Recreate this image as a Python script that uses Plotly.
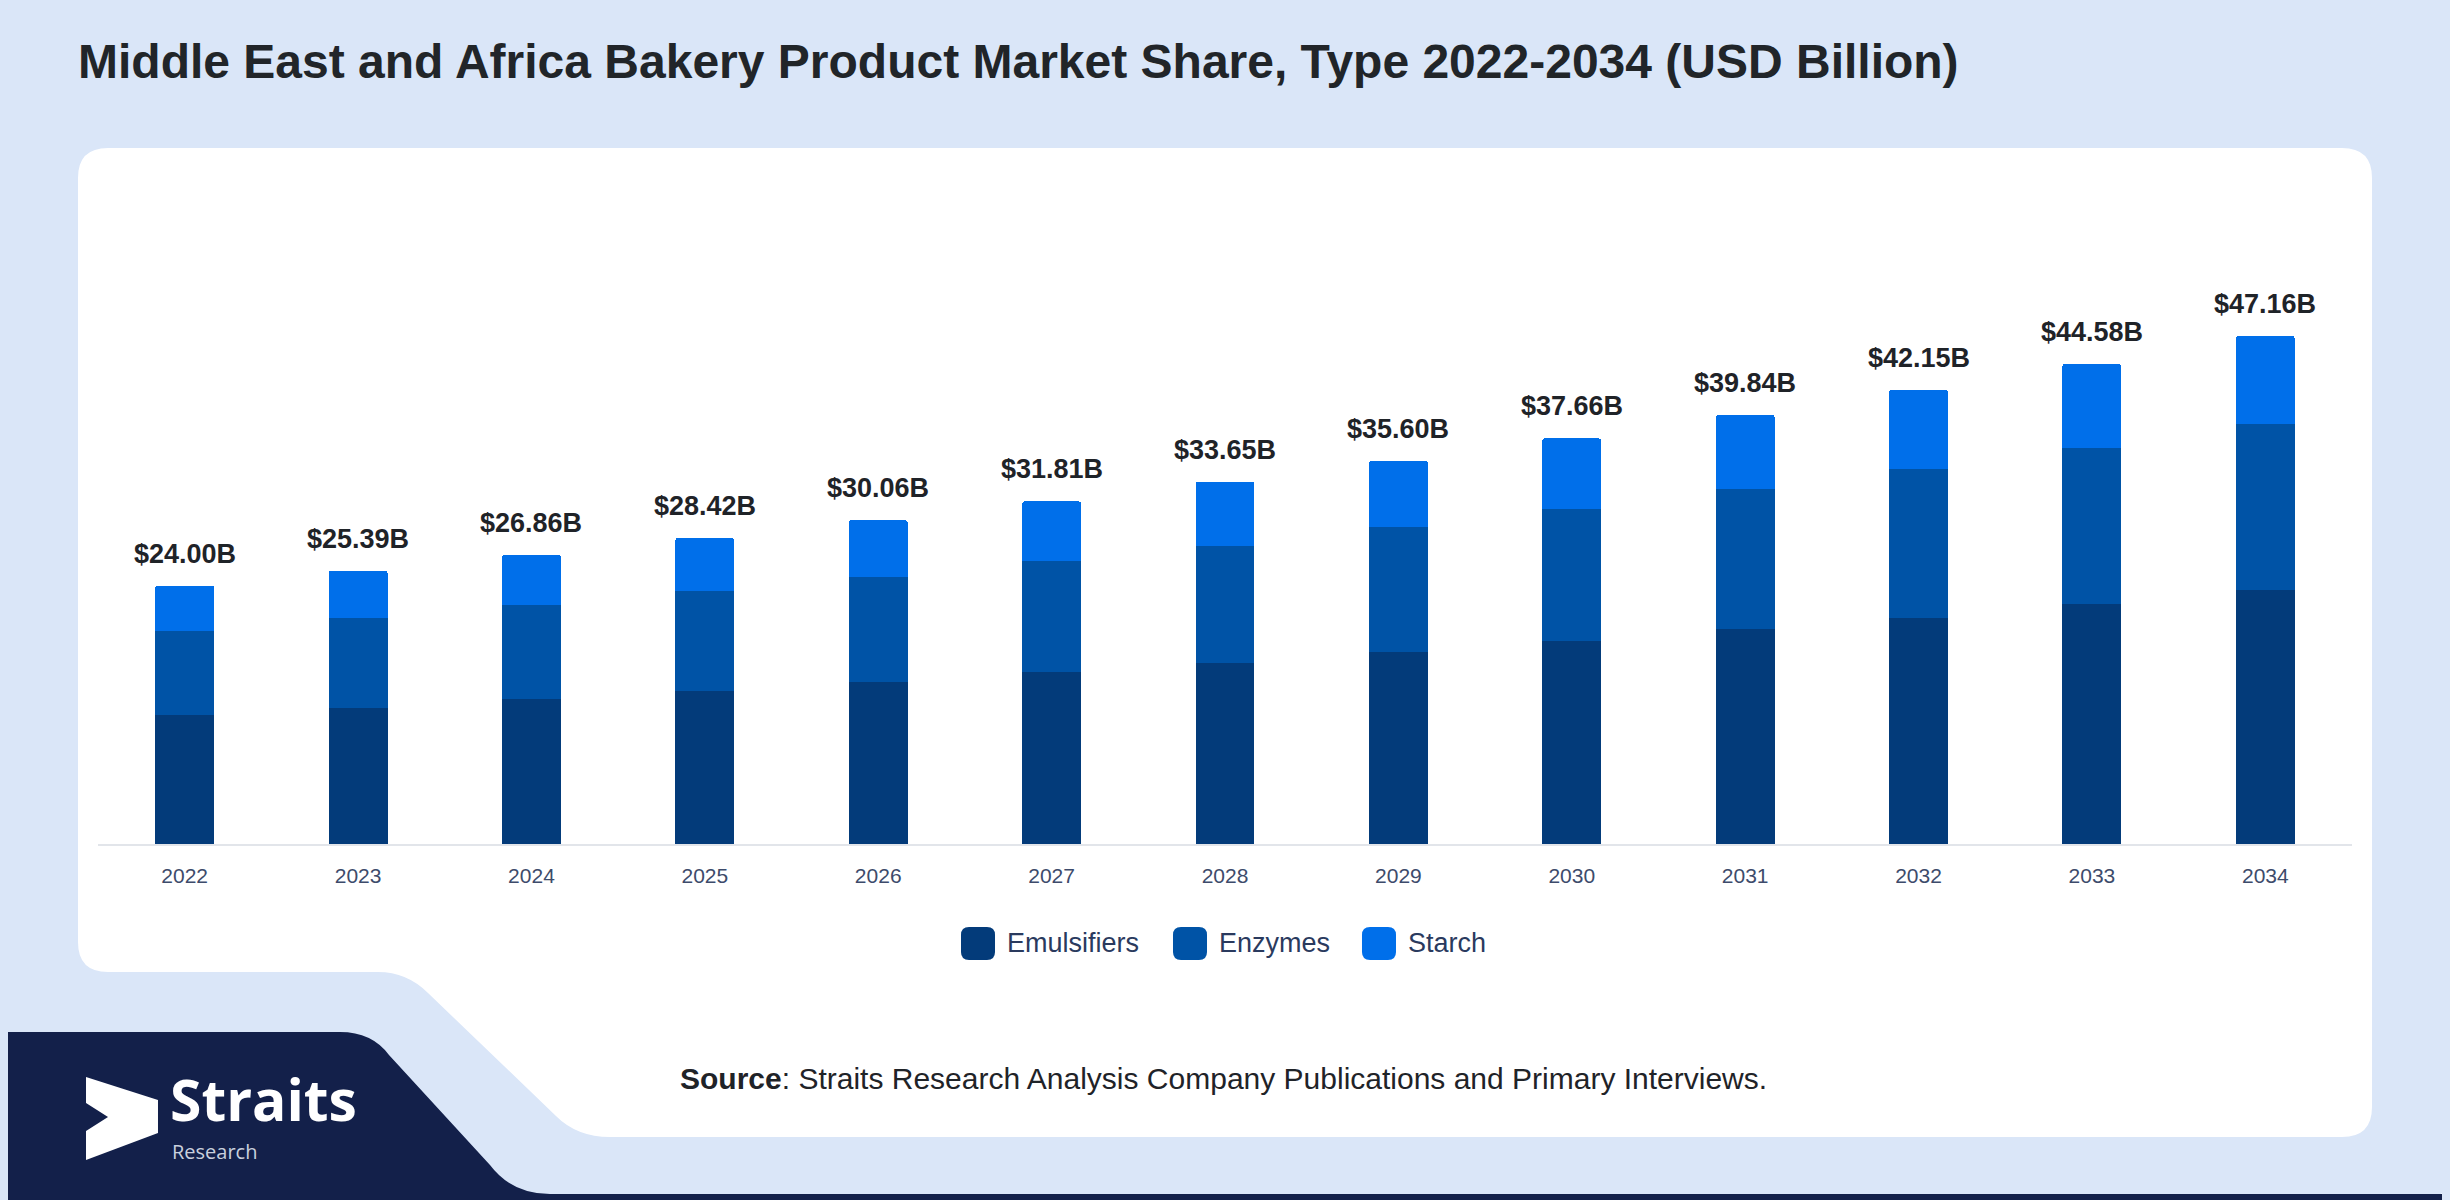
import plotly.graph_objects as go

# data (USD billion)
years = ["2022", "2023", "2024", "2025", "2026", "2027", "2028",
         "2029", "2030", "2031", "2032", "2033", "2034"]
emulsifiers = [12.00, 12.67, 13.44, 14.22, 15.03, 15.93, 16.81,
               17.84, 18.84, 19.99, 21.01, 22.32, 23.61]
enzymes = [7.80, 8.35, 8.74, 9.29, 9.76, 10.30, 10.90,
           11.58, 12.27, 12.96, 13.78, 14.47, 15.42]
starch = [4.20, 4.37, 4.68, 4.91, 5.27, 5.58, 5.94,
          6.18, 6.55, 6.89, 7.36, 7.79, 8.13]
totals = [24.00, 25.39, 26.86, 28.42, 30.06, 31.81, 33.65,
          35.60, 37.66, 39.84, 42.15, 44.58, 47.16]
series_names = ["Emulsifiers", "Enzymes", "Starch"]
series_colors = ["#033b7a", "#0053a6", "#006fea"]

W, H = 2450, 1200
OX, OY = 8, 8  # page margin the figure sits behind
BG = "#dae6f8"
FONT = "Liberation Sans, Arial, sans-serif"


def fx(x):
    return (x - OX) / W


def fy(y):
    return 1 - (y - OY) / H


def to_paper(d):
    # pixel svg path -> paper coords
    out, is_x = [], True
    for t in d.replace(",", " ").split():
        if t.isalpha():
            out.append(t)
            is_x = True
        else:
            v = float(t)
            out.append(f"{fx(v):.5f}" if is_x else f"{fy(v):.5f}")
            is_x = not is_x
    return " ".join(out)


def pshape(d, color):
    return dict(type="path", path=to_paper(d), xref="paper", yref="paper",
                fillcolor=color, line=dict(width=0), layer="below")


def rrect(x0, y0, x1, y1, r):
    return (f"M {x0+r},{y0} L {x1-r},{y0} Q {x1},{y0} {x1},{y0+r} "
            f"L {x1},{y1-r} Q {x1},{y1} {x1-r},{y1} L {x0+r},{y1} "
            f"Q {x0},{y1} {x0},{y1-r} L {x0},{y0+r} Q {x0},{y0} {x0+r},{y0} Z")


fig = go.Figure()
for name, vals, col in zip(series_names, [emulsifiers, enzymes, starch], series_colors):
    fig.add_trace(go.Bar(x=years, y=vals, name=name, marker=dict(color=col, line=dict(width=0)),
                         showlegend=False, hoverinfo="skip"))

# total labels above bars
for i, tot in enumerate(totals):
    fig.add_annotation(x=i, y=tot, xref="x", yref="y", text=f"<b>${tot:.2f}B</b>",
                       showarrow=False, yanchor="middle", yshift=32,
                       font=dict(family=FONT, size=27, color="#1f2328"))

shapes = [
    pshape(rrect(0, 0, 2447, 1200, 24), BG),
    # white card with the cut-out at bottom left
    pshape("M 108,148 L 2342,148 Q 2372,148 2372,178 L 2372,1107 Q 2372,1137 2342,1137 "
           "L 610,1137 Q 577,1137 556,1116 L 428,993 Q 407,972 378,972 L 108,972 "
           "Q 78,972 78,942 L 78,178 Q 78,148 108,148 Z", "#ffffff"),
    # navy logo block + bottom strip
    pshape("M 0,1032 L 340,1032 Q 372,1032 389,1055 L 490,1165 Q 512,1194 550,1194 "
           "L 2450,1194 L 2450,1210 L 0,1210 Z", "#13204a"),
    # logo mark
    pshape("M 86,1077 L 158,1100 L 158,1133 L 86,1160 L 86,1131 L 108,1117 L 86,1103 Z", "#ffffff"),
]

# legend drawn by hand (rounded swatches)
legend_x = [961, 1173, 1362]
for lx, name, col in zip(legend_x, series_names, series_colors):
    shapes.append(pshape(rrect(lx, 927, lx + 34, 960, 8), col))
    fig.add_annotation(x=fx(lx + 44), y=fy(943), xref="paper", yref="paper",
                       text=name, showarrow=False, xanchor="left", yanchor="middle",
                       font=dict(family=FONT, size=27, color="#2a3a5e"))

fig.add_annotation(x=fx(76), y=fy(61), xref="paper", yref="paper",
                   text="<b>Middle East and Africa Bakery Product Market Share, Type 2022-2034 (USD Billion)</b>",
                   showarrow=False, xanchor="left", yanchor="middle",
                   font=dict(family=FONT, size=48, color="#212529"))
fig.add_annotation(x=fx(678), y=fy(1078), xref="paper", yref="paper",
                   text="<b>Source</b>: Straits Research Analysis Company Publications and Primary Interviews.",
                   showarrow=False, xanchor="left", yanchor="middle",
                   font=dict(family=FONT, size=30, color="#1f2328"))
fig.add_annotation(x=fx(168), y=fy(1099), xref="paper", yref="paper",
                   text="<b>Straits</b>", showarrow=False, xanchor="left", yanchor="middle",
                   font=dict(family="Open Sans, sans-serif", size=57, color="#ffffff"))
fig.add_annotation(x=fx(170), y=fy(1151), xref="paper", yref="paper",
                   text="Research", showarrow=False, xanchor="left", yanchor="middle",
                   font=dict(family="Open Sans, sans-serif", size=20, color="#c9d0de"))

fig.update_layout(
    width=W, height=H,
    margin=dict(l=0, r=0, t=0, b=0),
    paper_bgcolor="#ffffff",
    plot_bgcolor="rgba(0,0,0,0)",
    barmode="stack",
    bargap=0.66,
    barcornerradius=3,
    shapes=shapes,
    xaxis=dict(domain=[fx(98), fx(2352)], type="category", range=[-0.5, 12.5],
               showgrid=False, showline=True, linecolor="#e2e5ea", linewidth=2,
               ticks="outside", ticklen=12, tickcolor="rgba(0,0,0,0)",
               tickfont=dict(family=FONT, size=21, color="#3d4b6b"), fixedrange=True),
    yaxis=dict(domain=[fy(844), fy(250)], range=[0, 55.15], visible=False,
               showgrid=False, zeroline=False, fixedrange=True),
    font=dict(family=FONT),
)

# page margin shows the same light blue as the frame
fig.write_html("out.html", post_script=f"document.body.style.background='{BG}';")
